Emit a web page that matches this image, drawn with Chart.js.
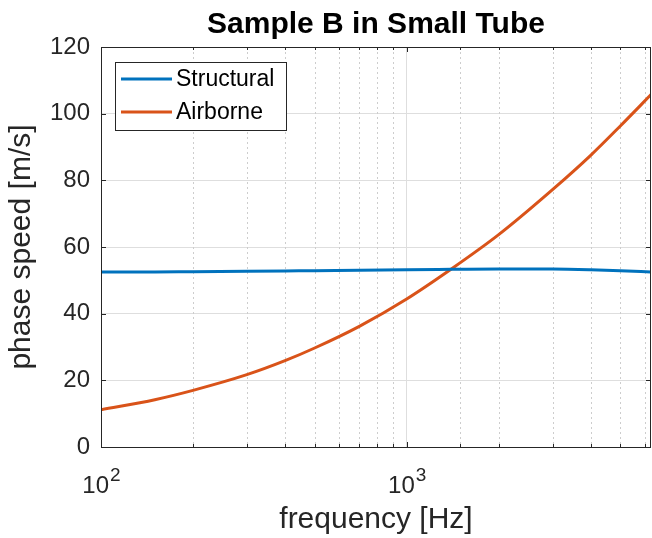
<!DOCTYPE html>
<html>
<head>
<meta charset="utf-8">
<script src="https://cdn.jsdelivr.net/npm/chart.js@4"></script>
<style>
  body { margin: 0; background: #fff; }
  #wrap { width: 652px; height: 538px; }
</style>
</head>
<body>
<div id="wrap"><canvas id="speedChart" width="652" height="538"></canvas></div>
<script>
// values
const freq = [100, 150, 200, 300, 400, 500, 700, 1000, 1400, 2000, 3000, 4000, 5000, 6300];
const structural = [52.5, 52.5, 52.6, 52.7, 52.8, 52.9, 53.0, 53.2, 53.3, 53.4, 53.4, 53.2, 52.9, 52.5];
const airborne = [11.2, 14.2, 17.0, 21.7, 25.9, 29.7, 36.2, 44.4, 53.4, 63.7, 77.2, 87.5, 96.3, 105.7];
const yTicks = [0, 20, 40, 60, 80, 100, 120];
const xDecades = [100, 1000];

const FONT = "'Liberation Sans', Arial, Helvetica, sans-serif";
const axisColor = "#262626";

function toPoints(ys) {
  return freq.map((f, i) => ({ x: f, y: ys[i] }));
}

// box, inner ticks, minor dotted grid, superscript x labels, legend
const matlabAxes = {
  id: "matlabAxes",
  beforeDatasetsDraw(chart) {
    const { ctx, chartArea: a, scales } = chart;
    const xs = scales.x;
    ctx.save();
    ctx.strokeStyle = "#cdcdcd";
    ctx.lineWidth = 1;
    ctx.setLineDash([2, 3]);
    xs.ticks.forEach((t) => {
      if (xDecades.includes(t.value) || t.value >= xs.max) return;
      const px = Math.round(xs.getPixelForValue(t.value)) + 0.5;
      ctx.beginPath();
      ctx.moveTo(px, a.top);
      ctx.lineTo(px, a.bottom);
      ctx.stroke();
    });
    ctx.restore();
  },
  afterDatasetsDraw(chart) {
    const { ctx, chartArea: a, scales } = chart;
    const xs = scales.x;
    const ys = scales.y;
    ctx.save();
    ctx.strokeStyle = axisColor;
    ctx.lineWidth = 1;
    ctx.strokeRect(Math.round(a.left) + 0.5, Math.round(a.top) + 0.5,
      Math.round(a.right - a.left) - 1, Math.round(a.bottom - a.top));

    // ticks inside the box
    ctx.beginPath();
    yTicks.forEach((v) => {
      const py = Math.round(ys.getPixelForValue(v)) + 0.5;
      ctx.moveTo(a.left, py); ctx.lineTo(a.left + 5, py);
      ctx.moveTo(a.right, py); ctx.lineTo(a.right - 5, py);
    });
    xs.ticks.forEach((t) => {
      if (t.value >= xs.max) return;
      const len = xDecades.includes(t.value) ? 5 : 3;
      const px = Math.round(xs.getPixelForValue(t.value)) + 0.5;
      ctx.moveTo(px, a.bottom); ctx.lineTo(px, a.bottom - len);
      ctx.moveTo(px, a.top); ctx.lineTo(px, a.top + len);
    });
    ctx.stroke();

    // x labels 10^n
    ctx.fillStyle = axisColor;
    ctx.textBaseline = "alphabetic";
    ctx.textAlign = "left";
    xDecades.forEach((v) => {
      const exp = String(Math.round(Math.log10(v)));
      ctx.font = "24px " + FONT;
      const wBase = ctx.measureText("10").width;
      ctx.font = "19px " + FONT;
      const wExp = ctx.measureText(exp).width;
      const x0 = xs.getPixelForValue(v) - (wBase + wExp) / 2;
      ctx.font = "24px " + FONT;
      ctx.fillText("10", x0, 493);
      ctx.font = "19px " + FONT;
      ctx.fillText(exp, x0 + wBase + 1, 481);
    });

    // legend
    const lx = 115, ly = 62, lw = 171, lh = 68;
    ctx.fillStyle = "#fff";
    ctx.fillRect(lx, ly, lw, lh);
    ctx.strokeStyle = axisColor;
    ctx.strokeRect(lx + 0.5, ly + 0.5, lw, lh);
    ctx.font = "23px " + FONT;
    ctx.textBaseline = "middle";
    chart.data.datasets.forEach((ds, i) => {
      const yy = ly + 17 + i * 33;
      ctx.strokeStyle = ds.borderColor;
      ctx.lineWidth = 3;
      ctx.beginPath();
      ctx.moveTo(lx + 6, yy); ctx.lineTo(lx + 57, yy);
      ctx.stroke();
      ctx.fillStyle = "#000";
      ctx.fillText(ds.label, lx + 61, yy + 1);
    });
    ctx.restore();
  }
};

const speedChart = new Chart(document.getElementById("speedChart"), {
  type: "line",
  data: {
    datasets: [
      {
        label: "Structural",
        data: toPoints(structural),
        borderColor: "#0072BD",
        borderWidth: 3,
        pointRadius: 0,
        cubicInterpolationMode: "monotone",
        fill: false
      },
      {
        label: "Airborne",
        data: toPoints(airborne),
        borderColor: "#D95319",
        borderWidth: 3,
        pointRadius: 0,
        cubicInterpolationMode: "monotone",
        fill: false
      }
    ]
  },
  options: {
    responsive: false,
    animation: false,
    events: [],
    layout: { padding: { left: 0, right: 1, top: 0, bottom: 0 } },
    plugins: {
      legend: { display: false },
      tooltip: { enabled: false },
      title: {
        display: true,
        fullSize: false,
        text: "Sample B in Small Tube",
        color: "#000",
        font: { family: FONT, size: 30, weight: "bold" },
        padding: { top: 7, bottom: 4 }
      }
    },
    scales: {
      x: {
        type: "logarithmic",
        min: 100,
        max: 6300,
        afterFit: (scale) => { scale.height = 91; },
        border: { display: false },
        grid: {
          drawTicks: false,
          color: (c) => (c.tick && c.tick.value === 1000 ? "#dedede" : "rgba(0,0,0,0)")
        },
        ticks: { display: false },
        title: {
          display: true,
          text: "frequency [Hz]",
          color: axisColor,
          font: { family: FONT, size: 30 },
          padding: { top: 0, bottom: 0 }
        }
      },
      y: {
        min: 0,
        max: 120,
        afterFit: (scale) => { scale.width = 101; },
        afterBuildTicks: (scale) => { scale.ticks = yTicks.map((v) => ({ value: v })); },
        border: { display: false },
        grid: { drawTicks: false, color: "#dedede" },
        ticks: {
          color: axisColor,
          padding: 11,
          font: { family: FONT, size: 24 }
        },
        title: {
          display: true,
          text: "phase speed [m/s]",
          color: axisColor,
          font: { family: FONT, size: 30 },
          padding: { top: 4, bottom: 0 }
        }
      }
    }
  },
  plugins: [matlabAxes]
});
</script>
</body>
</html>
